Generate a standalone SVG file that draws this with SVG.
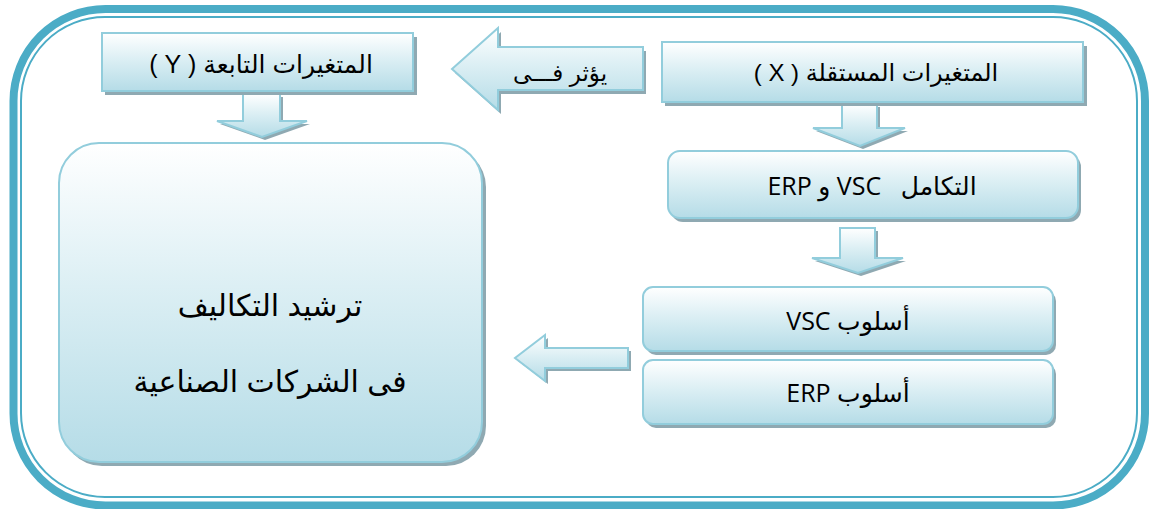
<svg xmlns="http://www.w3.org/2000/svg" width="1149" height="509" viewBox="0 0 1149 509">
<style>
.box{fill:url(#g);stroke:#92cddc;stroke-width:2}
.sh{fill:#8fa9b2}
.ar{fill:url(#g);stroke:#92cddc;stroke-width:2;stroke-linejoin:miter}
.t{font-family:"Liberation Sans","DejaVu Sans",sans-serif;fill:#000;text-anchor:middle;direction:rtl}
.c{font-family:"Open Sans","DejaVu Sans",sans-serif;fill:#000;text-anchor:middle;direction:rtl;white-space:pre}
</style>
<defs>
<linearGradient id="g" x1="0" y1="0" x2="0" y2="1">
<stop offset="0" stop-color="#ffffff"/>
<stop offset="0.45" stop-color="#dceff4"/>
<stop offset="1" stop-color="#b5dce7"/>
</linearGradient>
</defs>
<rect width="1149" height="509" fill="#ffffff"/>
<g id="frame" fill="none" stroke="#4bacc6">
<rect x="13.5" y="9" width="1131.5" height="496.5" rx="92" ry="92" stroke-width="8"/>
<rect x="21" y="17" width="1116" height="480" rx="84" ry="84" stroke-width="2"/>
</g>
<g id="connectors">
<g id="arrow-influence">
<polygon class="sh" points="646,51 501,51 501,32 455,73 501,114 501,94 646,94"/>
<polygon class="ar" points="643,47 498,47 498,28 452,69 498,110 498,90 643,90"/>
<text class="t" x="560" y="81" font-size="23">يؤثر فـــى</text>
</g>
<g id="arrow-y-down">
<polygon class="sh" points="246,97 283,97 283,124 310,124 265,140 220,124 246,124"/>
<polygon class="ar" points="243,94 280,94 280,121 307,121 262,137 217,121 243,121"/>
</g>
<g id="arrow-x-down">
<polygon class="sh" points="845,107 880,107 880,131 908,131 863,149 816,131 845,131"/>
<polygon class="ar" points="842,104 877,104 877,128 905,128 860,146 813,128 842,128"/>
</g>
<g id="arrow-int-down">
<polygon class="sh" points="843,231 878,231 878,261 906,261 861,276 815,261 843,261"/>
<polygon class="ar" points="840,228 875,228 875,258 903,258 858,273 812,258 840,258"/>
</g>
<g id="arrow-left-bottom">
<polygon class="sh" points="631,351 548,351 548,338 518,361 548,384 548,371 631,371"/>
<polygon class="ar" points="628,348 545,348 545,335 515,358 545,381 545,368 628,368"/>
</g>
</g>
<g id="node-y">
<rect class="sh" x="105" y="37" width="312" height="58"/>
<rect class="box" x="102" y="33" width="311" height="58"/>
<text class="t" x="261" y="73" font-size="25">المتغيرات التابعة ( Y )</text>
</g>
<g id="node-x">
<rect class="sh" x="665" y="46" width="422" height="60"/>
<rect class="box" x="662" y="42" width="421" height="60"/>
<text class="t" x="876" y="81" font-size="24">المتغيرات المستقلة ( X )</text>
</g>
<g id="node-integration">
<rect class="sh" x="671" y="155" width="410" height="67" rx="12"/>
<rect class="box" x="668" y="151" width="410" height="67" rx="12"/>
<text class="c" x="872" y="195" font-size="25">التكامل   VSC و ERP</text>
</g>
<g id="node-vsc">
<rect class="sh" x="646" y="291" width="410" height="64" rx="10"/>
<rect class="box" x="643" y="287" width="410" height="64" rx="10"/>
<text class="c" x="848" y="330" font-size="25">أسلوب VSC</text>
</g>
<g id="node-erp">
<rect class="sh" x="646" y="364" width="410" height="64" rx="10"/>
<rect class="box" x="643" y="360" width="410" height="64" rx="10"/>
<text class="c" x="848" y="402" font-size="25">أسلوب ERP</text>
</g>
<g id="node-result">
<rect class="sh" x="62" y="147" width="424" height="319" rx="40"/>
<rect class="box" x="59" y="143" width="423" height="319" rx="40"/>
<text class="t" x="270" y="316" font-size="30">ترشيد التكاليف</text>
<text class="t" x="270" y="392" font-size="30">فى الشركات الصناعية</text>
</g>
</svg>
